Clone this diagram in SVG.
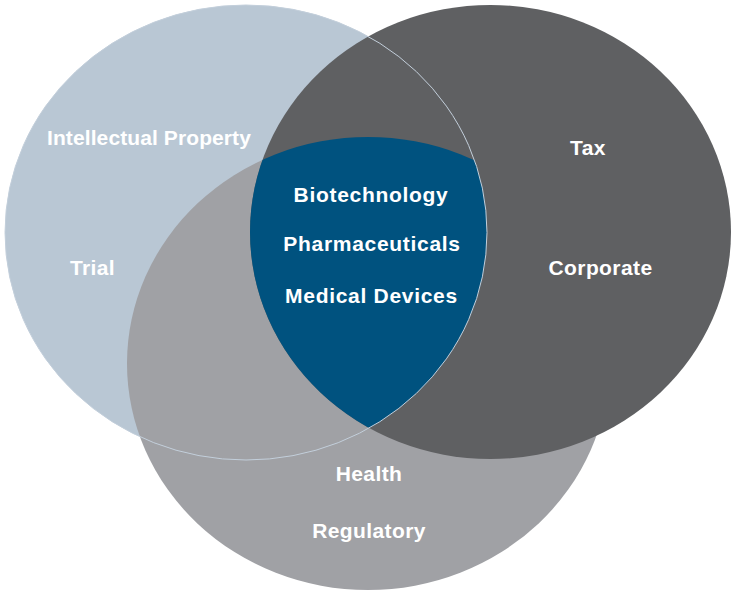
<svg xmlns="http://www.w3.org/2000/svg" width="732" height="593" viewBox="0 0 732 593">
  <style>
    .lbl { font-family: "Liberation Sans", Arial, sans-serif; font-weight: bold; font-size: 21px; fill: #ffffff; text-anchor: middle; letter-spacing: 0.4px; }
    .core { letter-spacing: 0.7px; }
    .tight { letter-spacing: 0.1px; }
  </style>
  <defs>
    <clipPath id="clipC1"><ellipse cx="246" cy="232.5" rx="241" ry="227.5"/></clipPath>
    <clipPath id="clipC2"><ellipse cx="490.5" cy="232" rx="240.5" ry="227"/></clipPath>
  </defs>
  <rect width="732" height="593" fill="#ffffff"/>
  <g id="ip-trial">
    <ellipse cx="246" cy="232.5" rx="241" ry="227.5" fill="#B9C7D4"/>
    <text class="lbl tight" x="149" y="145">Intellectual Property</text>
    <text class="lbl" x="92.5" y="275">Trial</text>
  </g>
  <g id="health-regulatory">
    <ellipse cx="368" cy="363.5" rx="241" ry="226.5" fill="#A0A1A5"/>
    <text class="lbl" x="369" y="481">Health</text>
    <text class="lbl" x="369" y="537.5">Regulatory</text>
  </g>
  <g id="tax-corporate">
    <ellipse cx="490.5" cy="232" rx="240.5" ry="227" fill="#5F6062"/>
    <text class="lbl" x="588" y="155">Tax</text>
    <text class="lbl" x="600.5" y="275">Corporate</text>
  </g>
  <g id="life-sciences">
    <g clip-path="url(#clipC1)">
      <g clip-path="url(#clipC2)">
        <ellipse cx="368" cy="363.5" rx="241" ry="226.5" fill="#00527F"/>
      </g>
    </g>
    <ellipse cx="246" cy="232.5" rx="241" ry="227.5" fill="none" stroke="#C3CFDB" stroke-width="1"/>
    <text class="lbl core" x="371" y="202">Biotechnology</text>
    <text class="lbl core" x="372" y="251">Pharmaceuticals</text>
    <text class="lbl core" x="371.5" y="303">Medical Devices</text>
  </g>
  <g id="connectors"/>
</svg>
